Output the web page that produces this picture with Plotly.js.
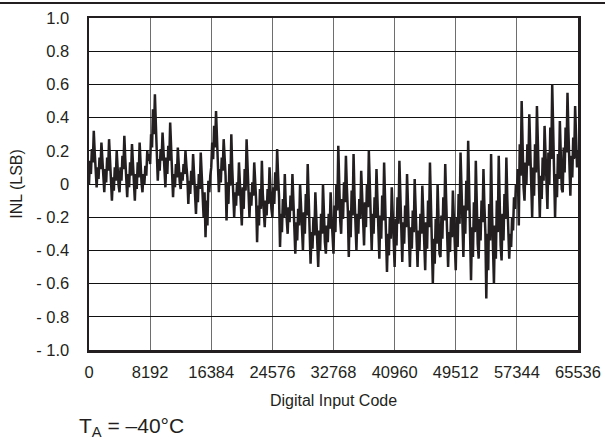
<!DOCTYPE html>
<html>
<head>
<meta charset="utf-8">
<script src="https://cdn.plot.ly/plotly-3.0.1.min.js"></script>
<style>html,body{margin:0;padding:0;background:#fff;}#chart{width:605px;height:443px;}</style>
</head>
<body>
<div id="chart"></div>
<script>
// INL readings (LSB), one sample every CODE_STEP codes, grouped per 8192-code block
const CODE_STEP = 128;
const seg1 = [0.00,0.14,0.06,0.21,0.13,0.32,0.19,0.10,
-0.02,0.10,0.03,0.16,0.09,0.25,0.14,0.06,
-0.05,0.09,0.01,0.16,0.08,0.27,0.14,0.05,
-0.10,0.04,-0.04,0.10,0.02,0.20,0.08,-0.01,
-0.05,0.10,0.02,0.17,0.09,0.29,0.15,0.05,
-0.08,0.06,-0.02,0.13,0.05,0.24,0.11,0.02,
-0.10,0.06,-0.03,0.13,0.04,0.25,0.11,0.01,
-0.05,0.06,0.00,0.11,0.05,0.20,0.14,0.18];
const seg2 = [0.12,0.30,0.22,0.45,0.30,0.54,0.36,0.15,
0.02,0.15,0.08,0.21,0.14,0.31,0.19,0.11,
-0.02,0.16,0.06,0.23,0.14,0.37,0.21,0.10,
-0.08,0.06,-0.02,0.12,0.04,0.22,0.10,0.01,
-0.03,0.07,0.02,0.12,0.06,0.20,0.11,0.04,
-0.12,0.02,-0.06,0.08,0.00,0.18,0.06,-0.03,
-0.18,-0.01,-0.11,0.06,-0.03,0.19,0.04,-0.07,
-0.20,-0.05,-0.32,-0.10,-0.25,0.02,-0.05,0.05];
const seg3 = [0.10,0.25,0.15,0.35,0.22,0.44,0.25,0.00,
-0.05,0.09,0.01,0.16,0.08,0.27,0.14,0.05,
-0.22,0.01,-0.12,0.12,-0.01,0.30,0.09,-0.06,
-0.20,-0.05,-0.13,0.01,-0.07,0.13,0.00,-0.10,
-0.25,-0.02,-0.15,0.09,-0.04,0.27,0.06,-0.09,
-0.20,-0.05,-0.13,0.01,-0.07,0.13,0.00,-0.10,
-0.35,-0.13,-0.25,-0.03,-0.15,0.14,-0.06,-0.20,
-0.26,-0.10,-0.19,-0.03,-0.12,0.10,-0.04,-0.15];
const seg4 = [-0.20,-0.02,-0.12,0.07,-0.04,0.21,0.05,-0.08,
-0.38,-0.18,-0.29,-0.09,-0.20,0.06,-0.12,-0.25,
-0.30,-0.14,-0.23,-0.07,-0.16,0.06,-0.08,-0.19,
-0.42,-0.23,-0.34,-0.15,-0.25,0.00,-0.17,-0.29,
-0.40,-0.17,-0.30,-0.06,-0.19,0.12,-0.09,-0.24,
-0.48,-0.29,-0.39,-0.20,-0.31,-0.05,-0.22,-0.35,
-0.50,-0.28,-0.40,-0.18,-0.30,0.00,-0.20,-0.35,
-0.42,-0.25,-0.35,-0.18,-0.27,-0.05,-0.20,-0.31];
const seg5 = [-0.42,-0.13,-0.29,0.00,-0.16,0.23,-0.03,-0.22,
-0.30,-0.09,-0.21,0.01,-0.11,0.17,-0.02,-0.16,
-0.44,-0.16,-0.32,-0.04,-0.19,0.18,-0.07,-0.25,
-0.40,-0.18,-0.30,-0.09,-0.21,0.08,-0.11,-0.26,
-0.37,-0.11,-0.26,0.00,-0.14,0.20,-0.03,-0.20,
-0.40,-0.18,-0.30,-0.08,-0.20,0.09,-0.11,-0.25,
-0.45,-0.19,-0.33,-0.07,-0.22,0.13,-0.10,-0.28,
-0.53,-0.30,-0.43,-0.20,-0.33,-0.02,-0.22,-0.38];
const seg6 = [-0.50,-0.21,-0.37,-0.08,-0.24,0.14,-0.12,-0.31,
-0.47,-0.23,-0.36,-0.13,-0.26,0.06,-0.15,-0.31,
-0.50,-0.26,-0.39,-0.16,-0.29,0.03,-0.18,-0.34,
-0.50,-0.28,-0.40,-0.18,-0.30,-0.01,-0.21,-0.35,
-0.52,-0.23,-0.39,-0.10,-0.26,0.13,-0.13,-0.33,
-0.60,-0.33,-0.48,-0.21,-0.36,0.00,-0.24,-0.42,
-0.44,-0.19,-0.33,-0.08,-0.22,0.12,-0.10,-0.27,
-0.50,-0.29,-0.41,-0.20,-0.32,-0.04,-0.22,-0.36];
const seg7 = [-0.52,-0.20,-0.38,-0.06,-0.24,0.19,-0.09,-0.31,
-0.44,-0.13,-0.30,0.02,-0.16,0.26,-0.02,-0.23,
-0.58,-0.26,-0.44,-0.11,-0.29,0.14,-0.15,-0.36,
-0.45,-0.21,-0.34,-0.10,-0.23,0.09,-0.13,-0.29,
-0.69,-0.30,-0.52,-0.12,-0.34,0.18,-0.17,-0.43,
-0.60,-0.25,-0.45,-0.10,-0.29,0.17,-0.14,-0.37,
-0.46,-0.18,-0.34,-0.06,-0.21,0.16,-0.09,-0.27,
-0.45,-0.30,-0.38,-0.20,-0.28,-0.08,-0.15,0.00];
const seg8 = [-0.05,0.09,-0.25,0.24,0.05,0.50,0.20,-0.02,
-0.10,0.13,0.00,0.24,0.11,0.42,0.21,0.06,
-0.20,0.10,-0.07,0.24,0.07,0.47,0.20,0.00,
-0.20,0.05,-0.09,0.16,0.02,0.35,0.13,-0.04,
-0.15,0.19,0.00,0.34,0.15,0.60,0.30,0.08,
-0.20,0.06,-0.08,0.18,0.03,0.38,0.15,-0.03,
-0.05,0.22,0.07,0.34,0.19,0.55,0.31,0.13,
-0.07,0.17,0.04,0.28,0.15,0.47,0.25,0.10,
0.20];

const xTickVals = [0, 8192, 16384, 24576, 32768, 40960, 49152, 57344, 65536];
const xTickText = ['0', '8192', '16384', '24576', '32768', '40960', '49512', '57344', '65536'];
const yTickVals = [-1.0, -0.8, -0.6, -0.4, -0.2, 0, 0.2, 0.4, 0.6, 0.8, 1.0];
const yTickText = ['- 1.0', '- 0.8', '- 0.6', '- 0.4', '- 0.2', '0', '0.2', '0.4', '0.6', '0.8', '1.0'];

const inl = [].concat(seg1, seg2, seg3, seg4, seg5, seg6, seg7, seg8);
const codes = inl.map((_, i) => Math.min(i * CODE_STEP, 65535));

const FONT = 'Liberation Sans, Arial, sans-serif';
const INK = '#231f20';

const trace = {
  type: 'scatter', mode: 'lines', x: codes, y: inl,
  line: {color: INK, width: 2.5},
  hoverinfo: 'skip', showlegend: false
};

const layout = {
  width: 605, height: 443,
  margin: {l: 89, r: 27, t: 18, b: 93},
  paper_bgcolor: '#fff', plot_bgcolor: '#fff',
  font: {family: FONT, size: 16, color: INK},
  xaxis: {
    range: [0, 65536], tickmode: 'array', tickvals: xTickVals, ticktext: xTickText,
    showgrid: true, gridcolor: '#6e6e6e', gridwidth: 1,
    zeroline: false, showline: true, mirror: true, linecolor: INK, linewidth: 2.5,
    ticks: '', ticklabelstandoff: 6, tickfont: {size: 16.5},
    title: {text: 'Digital Input Code', font: {size: 16}, standoff: 15},
    automargin: false, fixedrange: true
  },
  yaxis: {
    range: [-1, 1], tickmode: 'array', tickvals: yTickVals, ticktext: yTickText,
    showgrid: true, gridcolor: '#111', gridwidth: 1,
    zeroline: false, showline: true, mirror: true, linecolor: INK, linewidth: 2.5,
    ticks: '', ticklabelstandoff: 14, tickfont: {size: 16.5},
    title: {text: 'INL (LSB)', font: {size: 16}, standoff: 10},
    automargin: false, fixedrange: true
  },
  shapes: [{
    type: 'line', xref: 'paper', yref: 'paper',
    x0: -0.19, x1: 1.06, y0: 1.0452, y1: 1.0452,
    line: {color: INK, width: 2}
  }],
  annotations: [{
    xref: 'paper', yref: 'paper', x: -0.0245, y: -0.232,
    xanchor: 'left', yanchor: 'middle', showarrow: false,
    text: 'T<sub>A</sub> = –40°C', font: {size: 21, family: FONT, color: INK}
  }]
};

Plotly.newPlot('chart', [trace], layout, {displayModeBar: false, staticPlot: true});
</script>
</body>
</html>
